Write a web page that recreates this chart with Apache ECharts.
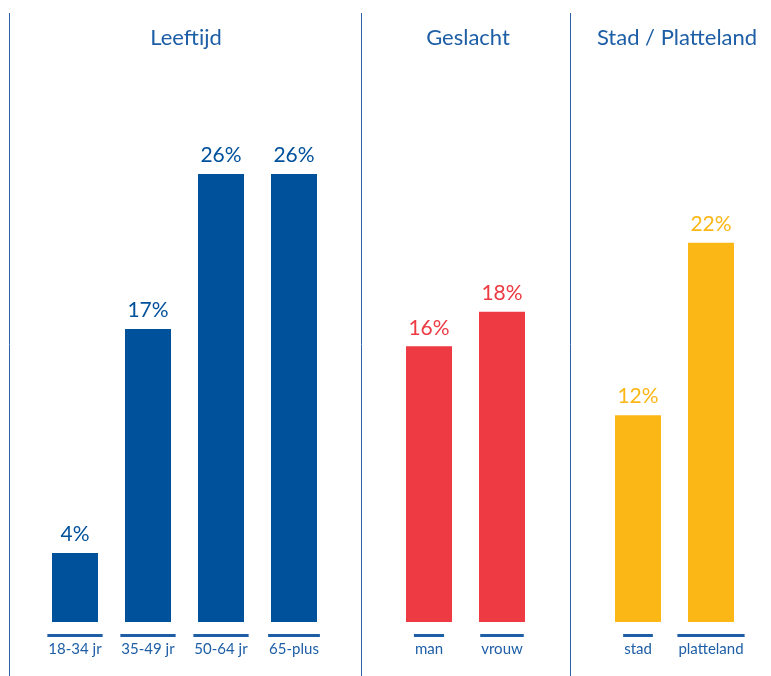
<!DOCTYPE html>
<html>
<head>
<meta charset="utf-8">
<style>
  html, body { margin: 0; padding: 0; background: #fff; }
  #chart { width: 771px; height: 676px; }
</style>
<script src="https://cdn.jsdelivr.net/npm/echarts@6/dist/echarts.min.js"></script>
</head>
<body>
<div id="chart"></div>
<script>
var titles = ['Leeftijd', 'Geslacht', 'Stad / Platteland'];

var leeftijdCats = ['18-34 jr', '35-49 jr', '50-64 jr', '65-plus'];
var leeftijdVals = [4, 17, 26, 26];

var geslachtCats = ['man', 'vrouw'];
var geslachtVals = [16, 18];

var stadCats = ['stad', 'platteland'];
var stadVals = [12, 22];

var blue = '#00519b';
var red = '#ee3a43';
var yellow = '#fbb716';
var textBlue = '#1d5ea6';
var font = 'Lato';

var chartDom = document.getElementById('chart');
var myChart = echarts.init(chartDom);

// each grid gets the same height so the bars share one scale
var grids = [
    { left: 38.5, width: 292, top: 105, bottom: 54 },
    { left: 392.5, width: 146, top: 105, bottom: 54 },
    { left: 601.5, width: 146, top: 105, bottom: 54 }
];

var xAxis = [leeftijdCats, geslachtCats, stadCats].map(function (cats, i) {
    return {
        type: 'category',
        gridIndex: i,
        data: cats,
        axisLine: { show: false },
        axisTick: { show: false },
        axisLabel: {
            margin: 12,
            interval: 0,
            formatter: function (v) { return '{u|' + v + '}\n{l|' + v + '}'; },
            rich: {
                u: {
                    fontFamily: font, fontSize: 15, color: 'transparent',
                    backgroundColor: textBlue, height: 3, lineHeight: 3,
                    padding: [0, 1]
                },
                l: {
                    fontFamily: font, fontSize: 15, color: textBlue,
                    lineHeight: 20, padding: [4, 0, 0, 0]
                }
            }
        }
    };
});

var yAxis = [0, 1, 2].map(function (i) {
    return {
        type: 'value', gridIndex: i, min: 0, max: 30,
        show: false, splitLine: { show: false }
    };
});

function barSeries(vals, i, color) {
    return {
        type: 'bar',
        xAxisIndex: i,
        yAxisIndex: i,
        data: vals,
        barWidth: 46,
        itemStyle: { color: color },
        label: {
            show: true,
            position: 'top',
            distance: 8,
            formatter: '{c}%',
            color: color,
            fontFamily: font,
            fontSize: 21
        }
    };
}

var option = {
    animation: false,
    title: titles.map(function (t, i) {
        return {
            text: t,
            left: [186, 468, 677][i],
            top: 27,
            padding: 0,
            textAlign: 'center',
            textStyle: { fontFamily: font, fontSize: 22, fontWeight: 'normal', color: textBlue }
        };
    }),
    grid: grids,
    xAxis: xAxis,
    yAxis: yAxis,
    series: [
        barSeries(leeftijdVals, 0, blue),
        barSeries(geslachtVals, 1, red),
        barSeries(stadVals, 2, yellow)
    ],
    graphic: [9.5, 361.5, 570.5].map(function (x) {
        return {
            type: 'line',
            shape: { x1: x, y1: 13, x2: x, y2: 676 },
            style: { stroke: '#2a62a4', lineWidth: 1 }
        };
    })
};

option && myChart.setOption(option);

window.addEventListener('resize', function () {
    myChart.resize();
});
</script>
</body>
</html>
